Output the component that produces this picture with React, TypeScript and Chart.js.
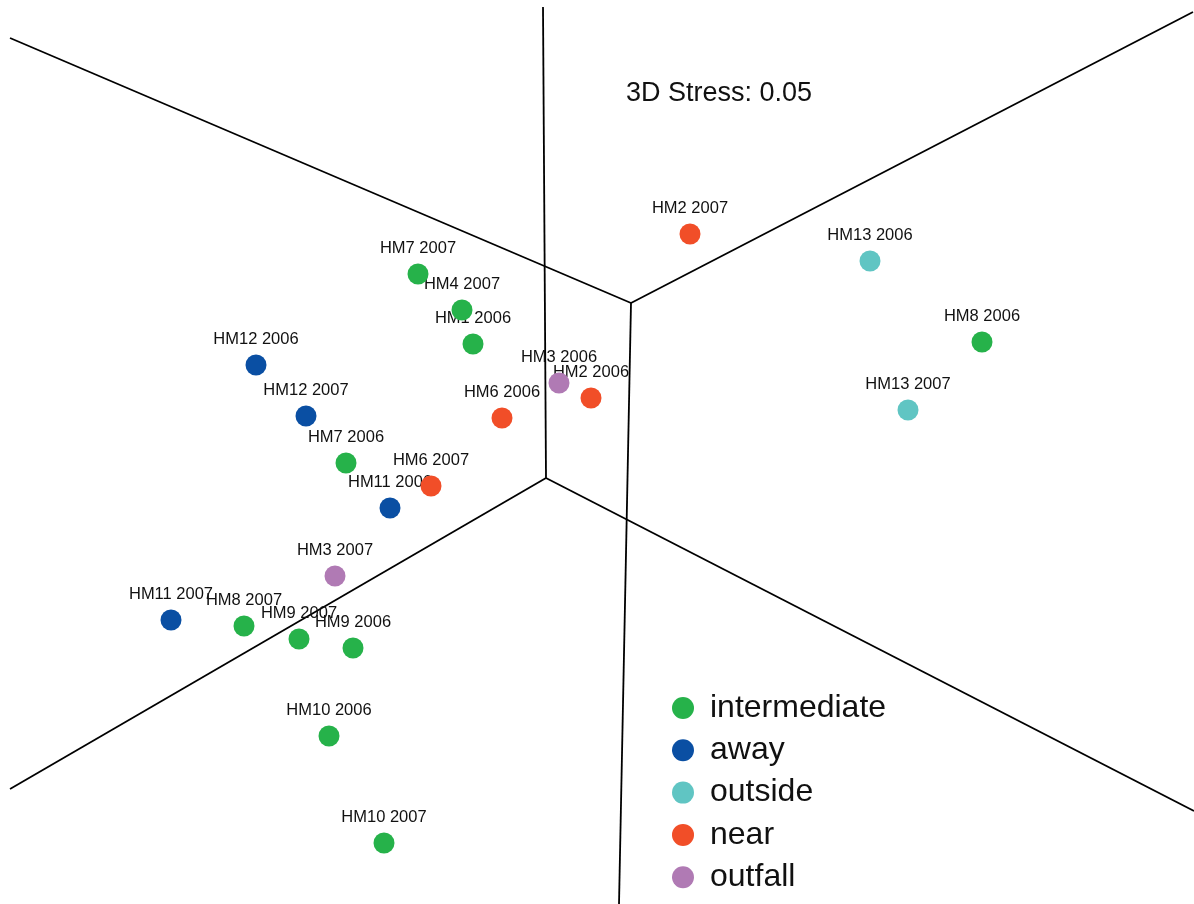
import React, { useEffect, useRef } from "react";
import { Chart, registerables } from "chart.js";

Chart.register(...registerables);

// Group names (legend order) and colours
const groups = ["intermediate", "away", "outside", "near", "outfall"];
const groupColors = ["#26B24A", "#0A4FA3", "#60C5C3", "#F14E28", "#B07AB4"];

// MDS coordinates per group (arbitrary units)
const intermediateNames = ["HM7 2007", "HM4 2007", "HM1 2006", "HM8 2006", "HM7 2006", "HM8 2007", "HM9 2007", "HM9 2006", "HM10 2006", "HM10 2007"];
const intermediateX = [-1.79, -1.35, -1.24, 3.85, -2.51, -3.53, -2.98, -2.44, -2.68, -2.13];
const intermediateY = [1.78, 1.42, 1.08, 1.1, -0.11, -1.74, -1.87, -1.96, -2.84, -3.91];

const awayNames = ["HM12 2006", "HM12 2007", "HM11 2006", "HM11 2007"];
const awayX = [-3.41, -2.91, -2.07, -4.26];
const awayY = [0.87, 0.36, -0.56, -1.68];

const outsideNames = ["HM13 2006", "HM13 2007"];
const outsideX = [2.73, 3.11];
const outsideY = [1.91, 0.42];

const nearNames = ["HM2 2007", "HM2 2006", "HM6 2006", "HM6 2007"];
const nearX = [0.93, -0.06, -0.95, -1.66];
const nearY = [2.18, 0.54, 0.34, -0.34];

const outfallNames = ["HM3 2006", "HM3 2007"];
const outfallX = [-0.38, -2.62];
const outfallY = [0.69, -1.24];

// 3D frame segments (start -> end)
const frameStartX = [0.34, 0.34, 0.34, -0.51, -0.51, -0.51];
const frameStartY = [1.49, 1.49, 1.49, -0.26, -0.26, -0.26];
const frameEndX = [-5.87, 5.96, 0.22, -0.54, -5.87, 5.97];
const frameEndY = [4.14, 4.4, -4.52, 4.45, -3.37, -3.59];

const stressText = "3D Stress: 0.05";

const groupNames = [intermediateNames, awayNames, outsideNames, nearNames, outfallNames];
const groupXs = [intermediateX, awayX, outsideX, nearX, outfallX];
const groupYs = [intermediateY, awayY, outsideY, nearY, outfallY];

const FONT = "'Liberation Sans', Arial, Helvetica, sans-serif";

const labelsPlugin = {
  id: "pointLabels",
  beforeDraw(chart: any) {
    chart.$labelsDrawn = false;
  },
  beforeDatasetDraw(chart: any, args: any) {
    const ds = chart.data.datasets[args.index];
    if (!ds.isGroup || chart.$labelsDrawn) return;
    chart.$labelsDrawn = true;
    const ctx = chart.ctx;
    ctx.save();
    ctx.font = `16.5px ${FONT}`;
    ctx.fillStyle = "#111";
    ctx.textAlign = "center";
    ctx.textBaseline = "middle";
    chart.data.datasets.forEach((d: any, i: number) => {
      if (!d.isGroup) return;
      const meta = chart.getDatasetMeta(i);
      meta.data.forEach((el: any, j: number) => {
        ctx.fillText(d.names[j], el.x, el.y - 26);
      });
    });
    ctx.restore();
  },
  afterDraw(chart: any) {
    const ctx = chart.ctx;
    ctx.save();
    // stress annotation
    ctx.font = `27px ${FONT}`;
    ctx.fillStyle = "#111";
    ctx.textAlign = "center";
    ctx.textBaseline = "middle";
    ctx.fillText(stressText, 719, 94);
    // legend
    ctx.font = `32px ${FONT}`;
    ctx.textAlign = "left";
    groups.forEach((g, i) => {
      const cy = 708 + i * 42.3;
      ctx.beginPath();
      ctx.arc(683, cy, 11, 0, Math.PI * 2);
      ctx.fillStyle = groupColors[i];
      ctx.fill();
      ctx.fillStyle = "#111";
      ctx.fillText(g, 710, cy);
    });
    ctx.restore();
  },
};

export default function App() {
  const ref = useRef<HTMLCanvasElement | null>(null);
  useEffect(() => {
    document.body.style.margin = "0";
    const frameSets = frameStartX.map((sx, i) => ({
      type: "line" as const,
      data: [
        { x: sx, y: frameStartY[i] },
        { x: frameEndX[i], y: frameEndY[i] },
      ],
      borderColor: "#000",
      borderWidth: 1.8,
      pointRadius: 0,
      showLine: true,
      fill: false,
      order: 10,
      isGroup: false,
    }));
    const pointSets = groups.map((g, gi) => ({
      type: "scatter" as const,
      label: g,
      data: groupXs[gi].map((x, j) => ({ x, y: groupYs[gi][j] })),
      backgroundColor: groupColors[gi],
      borderWidth: 0,
      pointRadius: 10.5,
      pointHoverRadius: 10.5,
      order: 1,
      isGroup: true,
      names: groupNames[gi],
    }));
    const chart = new Chart(ref.current as HTMLCanvasElement, {
      type: "scatter",
      data: { datasets: [...pointSets, ...frameSets] as any },
      options: {
        animation: false,
        responsive: true,
        maintainAspectRatio: false,
        layout: { padding: 0, autoPadding: false },
        events: [],
        plugins: { legend: { display: false }, tooltip: { enabled: false }, title: { display: false } },
        scales: {
          x: { type: "linear", min: -5.97, max: 5.97, display: false },
          y: { type: "linear", min: -4.52, max: 4.52, display: false },
        },
      },
      plugins: [labelsPlugin],
    });
    return () => chart.destroy();
  }, []);
  return (
    <div style={{ width: 1194, height: 904, position: "relative", background: "#fff" }}>
      <canvas ref={ref} />
    </div>
  );
}
